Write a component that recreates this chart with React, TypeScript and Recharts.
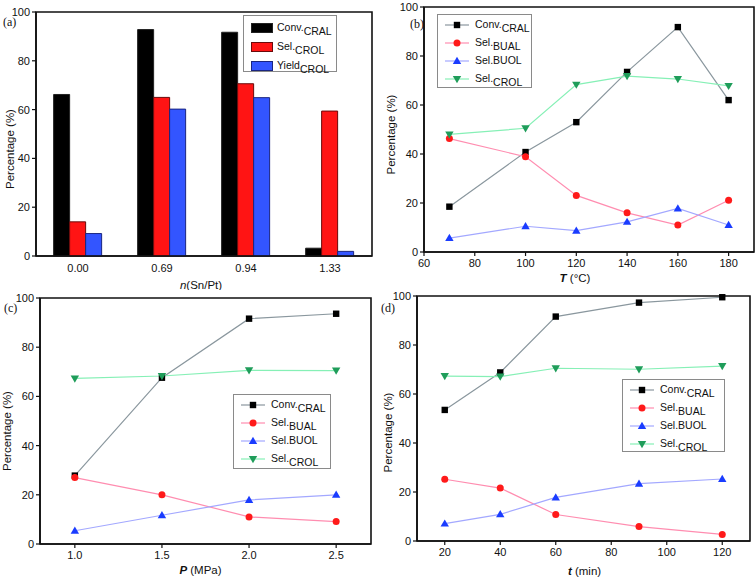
import React from 'react';
import { BarChart, Bar, LineChart, Line, XAxis, YAxis, ReferenceArea, Legend } from 'recharts';

// ---------- data ----------
const ratioCats = ['0.00', '0.69', '0.94', '1.33'];
const convRatio = [66.2, 92.8, 91.7, 3.2];
const selCrolRatio = [14.0, 65.0, 70.6, 59.4];
const yieldCrolRatio = [9.2, 60.2, 64.9, 1.9];

const temps = [70, 100, 120, 140, 160, 180];
const convTemp = [18.5, 40.8, 53.0, 73.5, 91.8, 62.0];
const bualTemp = [46.3, 38.9, 23.1, 16.0, 11.0, 21.1];
const buolTemp = [5.7, 10.5, 8.7, 12.3, 17.8, 11.0];
const crolTemp = [48.0, 50.5, 68.3, 71.8, 70.6, 67.8];

const pressures = [1.0, 1.5, 2.0, 2.5];
const convPress = [27.8, 67.6, 91.6, 93.6];
const bualPress = [27.0, 20.0, 11.0, 9.1];
const buolPress = [5.4, 11.7, 17.9, 20.0];
const crolPress = [67.3, 68.3, 70.6, 70.5];

const times = [20, 40, 60, 90, 120];
const convTime = [53.5, 68.8, 91.6, 97.3, 99.5];
const bualTime = [25.2, 21.6, 10.8, 5.9, 2.7];
const buolTime = [7.1, 10.9, 17.8, 23.4, 25.3];
const crolTime = [67.3, 67.1, 70.5, 70.1, 71.4];

const yDomain = [0, 100];
const yTicks = [0, 20, 40, 60, 80, 100];
const tempDomain = [60, 190];
const tempTicks = [60, 80, 100, 120, 140, 160, 180];
const pressDomain = [0.8, 2.7];
const pressTicks = [1.0, 1.5, 2.0, 2.5];
const timeDomain = [10, 130];
const timeTicks = [20, 40, 60, 80, 100, 120];

// ---------- tables ----------
const barData = ratioCats.map((c, i) => ({ cat: c, conv: convRatio[i], sel: selCrolRatio[i], yld: yieldCrolRatio[i] }));
const mk = (xs: number[], a: number[], b: number[], c: number[], d: number[]) =>
  xs.map((x, i) => ({ x, conv: a[i], bual: b[i], buol: c[i], crol: d[i] }));
const tempData = mk(temps, convTemp, bualTemp, buolTemp, crolTemp);
const pressData = mk(pressures, convPress, bualPress, buolPress, crolPress);
const timeData = mk(times, convTime, bualTime, buolTime, crolTime);

// ---------- styles ----------
const FONT = '"Liberation Sans", Arial, sans-serif';
const SERIF = '"Liberation Serif", "Times New Roman", serif';
const AX = '#111';

const BAR_SERIES = [
  { key: 'conv', name: 'Conv.', sub: 'CRAL', fill: '#000000', stroke: '#222' },
  { key: 'sel', name: 'Sel.', sub: 'CROL', fill: '#ff1414', stroke: '#6a0a0a' },
  { key: 'yld', name: 'Yield', sub: 'CROL', fill: '#3355ff', stroke: '#1a2580' },
];

const LINE_SERIES = [
  { key: 'conv', name: 'Conv.', sub: 'CRAL', line: '#8a979e', color: '#000000', shape: 'square' },
  { key: 'bual', name: 'Sel.', sub: 'BUAL', line: '#ff8db0', color: '#ff1a1a', shape: 'circle' },
  { key: 'buol', name: 'Sel.BUOL', sub: '', line: '#a3a8ff', color: '#1a3cff', shape: 'up' },
  { key: 'crol', name: 'Sel.', sub: 'CROL', line: '#86f0b6', color: '#1f9d5a', shape: 'down' },
];

function Marker({ cx, cy, shape, color }: any) {
  if (cx == null || cy == null) return null;
  if (shape === 'square') return <rect x={cx - 3.2} y={cy - 3.2} width={6.4} height={6.4} fill={color} />;
  if (shape === 'circle') return <circle cx={cx} cy={cy} r={3.5} fill={color} />;
  if (shape === 'up') return <polygon points={`${cx},${cy - 4.2} ${cx + 4.2},${cy + 3} ${cx - 4.2},${cy + 3}`} fill={color} />;
  return <polygon points={`${cx},${cy + 4.2} ${cx + 4.2},${cy - 3} ${cx - 4.2},${cy - 3}`} fill={color} />;
}

function Name({ name, sub }: any) {
  return (
    <span style={{ fontFamily: FONT, fontSize: 10.5, color: '#111', whiteSpace: 'nowrap' }}>
      {name}
      {sub ? <span style={{ position: 'relative', top: 4, fontSize: 10.5 }}>{sub}</span> : null}
    </span>
  );
}

function BarLegend() {
  return (
    <div style={{ width: 94, height: 57, border: '1px solid #8a8a8a', background: '#fff', boxSizing: 'border-box', paddingTop: 2 }}>
      {BAR_SERIES.map((s) => (
        <div key={s.key} style={{ display: 'flex', alignItems: 'center', height: 19 }}>
          <div style={{ width: 22, height: 10, marginLeft: 7, marginRight: 4, background: s.fill, border: `1px solid ${s.stroke}`, boxSizing: 'border-box' }} />
          <div style={{ position: 'relative', top: -2 }}><Name name={s.name} sub={s.sub} /></div>
        </div>
      ))}
    </div>
  );
}

function LineLegend({ width, height }: any) {
  return (
    <div style={{ width, height, border: '1px solid #8a8a8a', background: '#fff', boxSizing: 'border-box', paddingTop: 1 }}>
      {LINE_SERIES.map((s) => (
        <div key={s.key} style={{ display: 'flex', alignItems: 'center', height: 18 }}>
          <svg width={34} height={12} style={{ marginLeft: 2, marginRight: 1 }}>
            <line x1={5} y1={6} x2={29} y2={6} stroke={s.line} strokeWidth={1.2} />
            <Marker cx={17} cy={6} shape={s.shape} color={s.color} />
          </svg>
          <div style={{ position: 'relative', top: -2 }}><Name name={s.name} sub={s.sub} /></div>
        </div>
      ))}
    </div>
  );
}

function YTitle({ viewBox, dx, dy }: any) {
  const x = viewBox.x + dx;
  const y = viewBox.y + viewBox.height / 2 + dy;
  return (
    <text x={x} y={y} transform={`rotate(-90 ${x} ${y})`} textAnchor="middle" dominantBaseline="central"
      fontFamily={FONT} fontSize={11.5} fill="#111">Percentage (%)</text>
  );
}

function XTitle({ viewBox, dx, dy, sym, rest, bold }: any) {
  const x = viewBox.x + viewBox.width / 2 + dx;
  const y = viewBox.y + dy;
  return (
    <text x={x} y={y} textAnchor="middle" dominantBaseline="central" fontFamily={FONT} fontSize={11.5} fill="#111">
      <tspan fontStyle="italic" fontWeight={bold ? 'bold' : 'normal'}>{sym}</tspan>
      <tspan>{rest}</tspan>
    </text>
  );
}

const tickStyle = { fontFamily: FONT, fontSize: 11, fill: '#111' };

function PanelLetter({ text, left, top }: any) {
  return <div style={{ position: 'absolute', left, top, fontFamily: SERIF, fontSize: 12, color: '#111', lineHeight: 1 }}>{text}</div>;
}

function LinePanel(props: any) {
  const { data, left, top, width, height, margin, yWidth, xHeight, xDomain, xTicks, fmt, legendPos, legendSize, yDx, yDy, xDx, xDy, sym, rest } = props;
  return (
    <div style={{ position: 'absolute', left, top }}>
      <LineChart width={width} height={height} data={data} margin={margin}>
        <XAxis dataKey="x" type="number" domain={xDomain} ticks={xTicks} tickFormatter={fmt} allowDataOverflow
          height={xHeight} tickSize={4} tickMargin={3} tick={tickStyle}
          axisLine={{ stroke: AX, strokeWidth: 1.6 }} tickLine={{ stroke: AX, strokeWidth: 1.2 }}
          label={<XTitle dx={xDx} dy={xDy} sym={sym} rest={rest} bold />} />
        <YAxis type="number" domain={yDomain} ticks={yTicks} width={yWidth} tickSize={4} tickMargin={2} tick={tickStyle}
          axisLine={{ stroke: AX, strokeWidth: 1.6 }} tickLine={{ stroke: AX, strokeWidth: 1.2 }}
          label={<YTitle dx={yDx} dy={yDy} />} />
        <ReferenceArea x1={xDomain[0]} x2={xDomain[1]} y1={yDomain[0]} y2={yDomain[1]}
          fill="#ffffff" fillOpacity={0} stroke={AX} strokeWidth={1.6} strokeOpacity={1} ifOverflow="visible" />
        {LINE_SERIES.map((s) => (
          <Line key={s.key} dataKey={s.key} stroke={s.line} strokeWidth={1.2} isAnimationActive={false}
            dot={(p: any) => <Marker key={`${s.key}-${p.index}`} cx={p.cx} cy={p.cy} shape={s.shape} color={s.color} />}
            activeDot={false} />
        ))}
        <Legend layout="horizontal" verticalAlign="middle" align="center"
          wrapperStyle={{ left: legendPos[0], top: legendPos[1], width: legendSize[0], height: legendSize[1] }}
          content={() => <LineLegend width={legendSize[0]} height={legendSize[1]} />} />
      </LineChart>
    </div>
  );
}

export default function App() {
  return (
    <div style={{ position: 'absolute', left: 0, top: 0, width: 756, height: 580, background: '#fff', overflow: 'hidden' }}>
      {/* (a) */}
      <div style={{ position: 'absolute', left: 0, top: 0 }}>
        <BarChart width={378} height={290} data={barData} margin={{ top: 12, right: 6, bottom: 0, left: 0 }}
          barCategoryGap="21%" barGap={0}>
          <XAxis dataKey="cat" height={34} tickSize={0} tickMargin={8} tick={tickStyle}
            axisLine={{ stroke: AX, strokeWidth: 1.6 }}
            label={<XTitle dx={-3} dy={29} sym="n" rest="(Sn/Pt)" />} />
          <YAxis type="number" domain={yDomain} ticks={yTicks} width={36} tickSize={4} tickMargin={2} tick={tickStyle}
            axisLine={{ stroke: AX, strokeWidth: 1.6 }} tickLine={{ stroke: AX, strokeWidth: 1.2 }}
            label={<YTitle dx={10} dy={15} />} />
          <ReferenceArea x1={ratioCats[0]} x2={ratioCats[ratioCats.length - 1]} y1={yDomain[0]} y2={yDomain[1]}
            fill="#ffffff" fillOpacity={0} stroke={AX} strokeWidth={1.6} strokeOpacity={1} ifOverflow="visible" />
          {BAR_SERIES.map((s) => (
            <Bar key={s.key} dataKey={s.key} fill={s.fill} stroke={s.stroke} strokeWidth={1} isAnimationActive={false} />
          ))}
          <Legend layout="horizontal" verticalAlign="middle" align="center"
            wrapperStyle={{ left: 243, top: 15, width: 94, height: 57 }}
            content={() => <BarLegend />} />
        </BarChart>
      </div>
      <PanelLetter text="(a)" left={3} top={16} />

      {/* (b) */}
      <LinePanel data={tempData} left={378} top={0} width={378} height={290}
        margin={{ top: 7, right: 2, bottom: 0, left: 0 }} yWidth={46} xHeight={38}
        xDomain={tempDomain} xTicks={tempTicks} fmt={(v: number) => String(v)}
        legendPos={[59, 14]} legendSize={[95, 74]} yDx={13} yDy={5} xDx={-14} xDy={26}
        sym="T" rest=" (°C)" />
      <PanelLetter text="(b)" left={410} top={18} />

      {/* (c) */}
      <LinePanel data={pressData} left={0} top={285} width={378} height={295}
        margin={{ top: 13, right: 7, bottom: 0, left: 0 }} yWidth={40} xHeight={36}
        xDomain={pressDomain} xTicks={pressTicks} fmt={(v: number) => v.toFixed(1)}
        legendPos={[233, 109]} legendSize={[98, 75]} yDx={7} yDy={10} xDx={-5} xDy={26}
        sym="P" rest=" (MPa)" />
      <PanelLetter text="(c)" left={4} top={302} />

      {/* (d) */}
      <LinePanel data={timeData} left={378} top={285} width={378} height={295}
        margin={{ top: 11, right: 6, bottom: 0, left: 0 }} yWidth={39} xHeight={39}
        xDomain={timeDomain} xTicks={timeTicks} fmt={(v: number) => String(v)}
        legendPos={[244, 94]} legendSize={[103, 73]} yDx={10} yDy={14} xDx={1} xDy={30}
        sym="t" rest=" (min)" />
      <PanelLetter text="(d)" left={381} top={302} />
    </div>
  );
}
